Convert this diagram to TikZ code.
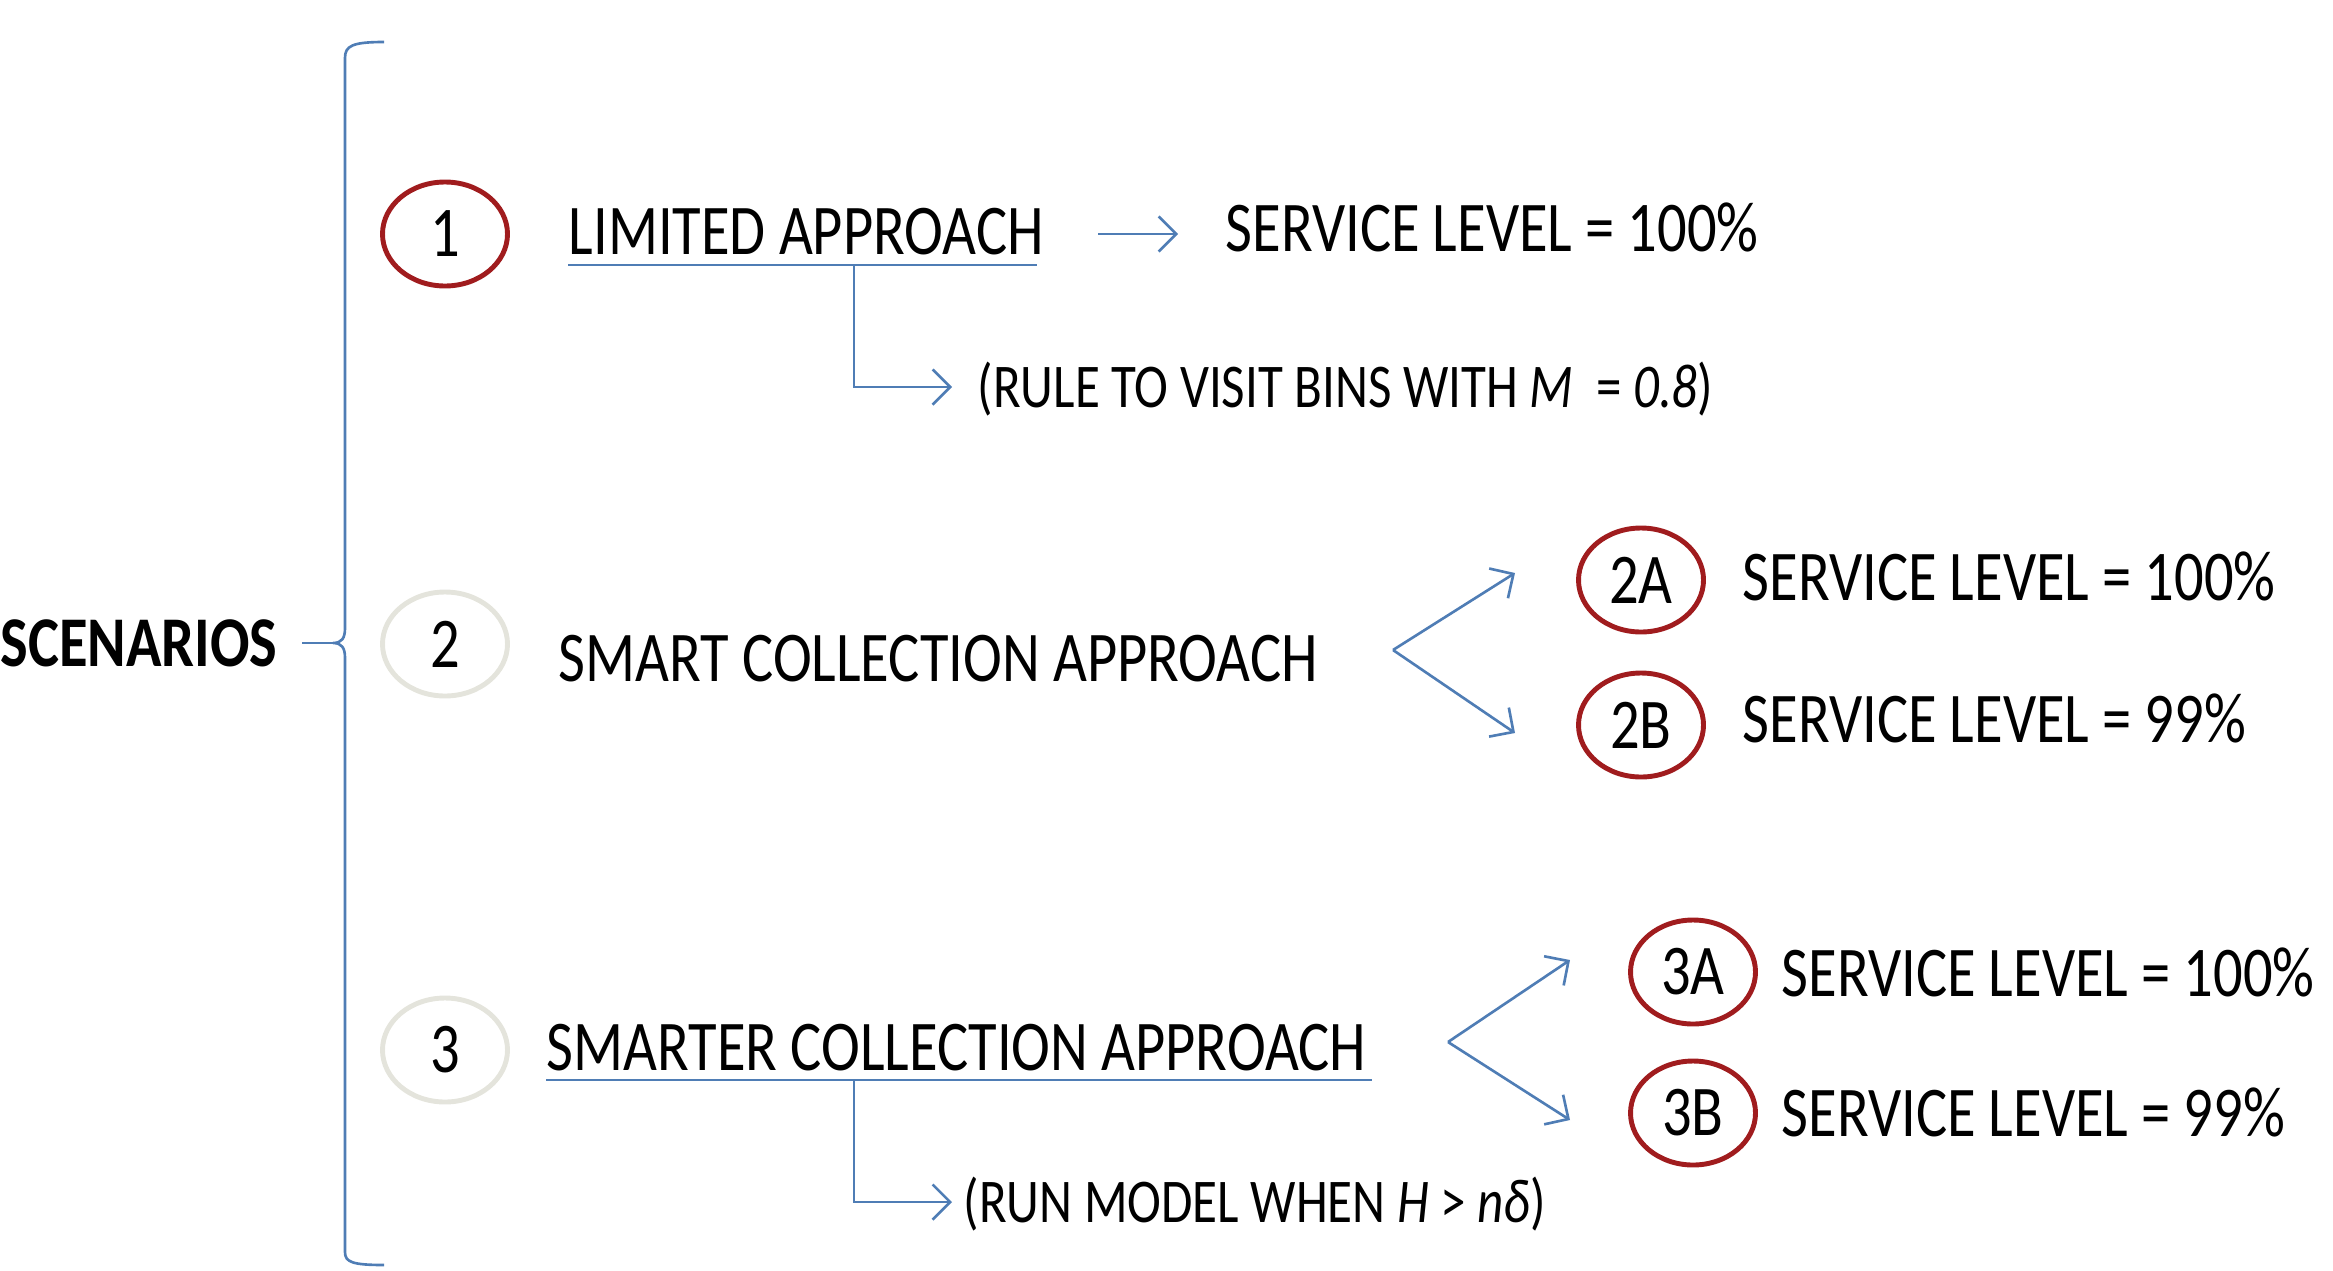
\documentclass[tikz,border=0pt]{standalone}
\usepackage{fontspec}
\setmainfont{Carlito}[FakeStretch=0.82]
\usetikzlibrary{arrows.meta,shapes.geometric,calc}
\definecolor{cred}{RGB}{160,28,30}
\definecolor{cgray}{RGB}{228,228,220}
\definecolor{cblue}{RGB}{79,125,181}
\begin{document}
\begin{tikzpicture}[
  txt/.style={anchor=base west, inner sep=0pt, font=\fontsize{20.3}{24}\selectfont},
  smalltxt/.style={txt, font=\fontsize{17.7}{21}\selectfont},
  numc/.style={ellipse, line width=1.4pt, minimum width=1.25cm, minimum height=1.04cm, inner sep=0pt, font=\fontsize{20.3}{24}\selectfont},
  redc/.style={numc, draw=cred},
  grayc/.style={numc, draw=cgray},
  conn/.style={draw=cblue, line width=0.75pt},
  arr/.style={conn, -{Straight Barb[length=5pt,width=10pt]}}
]
\useasboundingbox (0,0) rectangle (23.33,-12.70);

% brace
\coordinate (bt) at (3.84,-0.42);
\coordinate (bb) at (3.84,-12.65);
\coordinate (bm) at (3.33,-6.43);
\coordinate (bs) at (3.02,-6.43);
\draw[conn] (bt) .. controls (3.52,-0.42) and (3.45,-0.46) .. (3.45,-0.58)
  -- (3.45,-6.28) .. controls (3.45,-6.38) and (3.42,-6.43) .. (bm)
  .. controls (3.42,-6.43) and (3.45,-6.48) .. (3.45,-6.58)
  -- (3.45,-12.52) .. controls (3.45,-12.62) and (3.52,-12.65) .. (bb);
\draw[conn] (bs) -- (bm);
\node[txt, font=\fontsize{20.3}{24}\selectfont\bfseries] (scen) at (0,-6.66) {SCENARIOS};

% scenario 1
\node[redc] (c1) at (4.45,-2.34) {1};
\node[txt] (la) at (5.68,-2.54) {LIMITED APPROACH};
\coordinate (u1a) at (5.68,-2.65);
\coordinate (u1b) at (10.37,-2.65);
\draw[conn] (u1a) -- (u1b);
\coordinate (u1m) at (8.54,-2.65);
\node[smalltxt] (rule) at (9.77,-4.07) {(RULE TO VISIT BINS WITH {\itshape M}\ \ = {\itshape 0.8})};
\coordinate (r1) at (9.52,-3.87);
\draw[arr] (u1m) |- (r1);
\node[txt] (sl1) at (12.25,-2.51) {SERVICE LEVEL = 100\%};
\coordinate (a1s) at (10.98,-2.34);
\coordinate (a1e) at (11.78,-2.34);
\draw[arr] (a1s) -- (a1e);

% scenario 2
\node[grayc] (c2) at (4.45,-6.44) {2};
\node[txt] (sc) at (5.58,-6.81) {SMART COLLECTION APPROACH};
\coordinate (v2) at (13.93,-6.50);
\coordinate (v2a) at (15.15,-5.73);
\coordinate (v2b) at (15.15,-7.33);
\draw[arr] (v2) -- (v2a);
\draw[arr] (v2) -- (v2b);
\node[redc] (c2a) at (16.41,-5.80) {2A};
\node[redc] (c2b) at (16.41,-7.25) {2B};
\node[txt] (sl2a) at (17.42,-6.00) {SERVICE LEVEL = 100\%};
\node[txt] (sl2b) at (17.42,-7.42) {SERVICE LEVEL = 99\%};

% scenario 3
\node[grayc] (c3) at (4.45,-10.50) {3};
\node[txt] (smc) at (5.46,-10.70) {SMARTER COLLECTION APPROACH};
\coordinate (u3a) at (5.46,-10.80);
\coordinate (u3b) at (13.72,-10.80);
\draw[conn] (u3a) -- (u3b);
\coordinate (u3m) at (8.54,-10.80);
\node[smalltxt] (run) at (9.63,-12.22) {(RUN MODEL WHEN {\itshape H} > {\itshape nδ})};
\coordinate (r3) at (9.52,-12.02);
\draw[arr] (u3m) |- (r3);
\coordinate (v3) at (14.48,-10.42);
\coordinate (v3a) at (15.70,-9.60);
\coordinate (v3b) at (15.70,-11.20);
\draw[arr] (v3) -- (v3a);
\draw[arr] (v3) -- (v3b);
\node[redc] (c3a) at (16.93,-9.72) {3A};
\node[redc] (c3b) at (16.93,-11.13) {3B};
\node[txt] (sl3a) at (17.81,-9.96) {SERVICE LEVEL = 100\%};
\node[txt] (sl3b) at (17.81,-11.36) {SERVICE LEVEL = 99\%};
\end{tikzpicture}
\end{document}
